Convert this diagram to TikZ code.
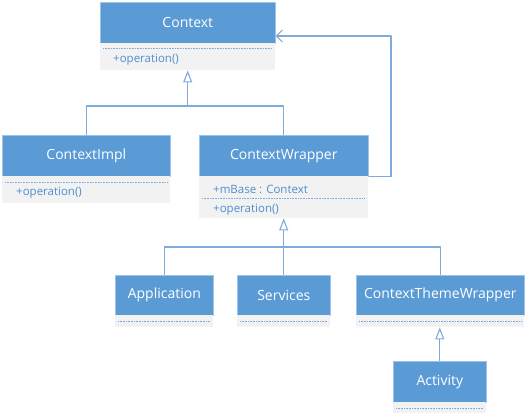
\documentclass[tikz,border=0pt]{standalone}
\usepackage{fontspec}
\setmainfont{Open Sans}
\usetikzlibrary{arrows.meta}
\definecolor{umlblue}{HTML}{5B9BD5}
\definecolor{umledge}{HTML}{9DC3E6}
\definecolor{umlline}{HTML}{7FAADC}
\definecolor{umlgray}{HTML}{F2F2F2}
\definecolor{umltext}{HTML}{4F8FD0}
\begin{document}
\begin{tikzpicture}[x=1pt, y=-1pt, line join=round,
	head/.style={fill=umlblue, draw=umledge, line width=0.6pt, inner sep=0pt, anchor=north west,
		text=white, font=\fontsize{14}{16}\selectfont},
	body/.style={fill=umlgray, inner sep=0pt, anchor=north west},
	member/.style={text=umltext, inner sep=0pt, anchor=west, font=\fontsize{11.5}{13}\selectfont},
	sep/.style={draw=umlline, line width=1pt, dash pattern=on 0.8pt off 0.8pt},
	link/.style={draw=umlline, line width=1.1pt},
	tri/.style={link, -{Triangle[open, length=12pt, width=9pt, line width=1.1pt]}},
	assoc/.style={link, -{Straight Barb[length=6pt, width=12pt, line width=1.1pt]}}]
	\useasboundingbox (0,0) rectangle (526,415);
	% Context
	\node[head, minimum width=175pt, minimum height=41pt] (ctxH) at (100,2) {Context};
	\node[body, minimum width=175pt, minimum height=27pt] (ctxB) at (100,43) {};
	\draw[sep] (103,48) -- (272,48);
	\node[member] (ctxOp) at (113,60) {+operation()};
	% ContextImpl
	\node[head, minimum width=168pt, minimum height=41pt] (implH) at (2,135) {ContextImpl};
	\node[body, minimum width=168pt, minimum height=27pt] (implB) at (2,176) {};
	\draw[sep] (5,182) -- (167,182);
	\node[member] (implOp) at (16,193) {+operation()};
	% ContextWrapper
	\node[head, minimum width=169pt, minimum height=41pt] (wrapH) at (199,135) {ContextWrapper};
	\node[body, minimum width=169pt, minimum height=42pt] (wrapB) at (199,176) {};
	\node[member] (wrapBase) at (213,189) {+mBase : Context};
	\draw[sep] (202,198) -- (365,198);
	\node[member] (wrapOp) at (213,210) {+operation()};
	% subclasses
	\node[head, minimum width=98pt, minimum height=40pt] (appH) at (115,275) {Application};
	\node[body, minimum width=98pt, minimum height=12pt] (appB) at (115,315) {};
	\draw[sep] (118,321) -- (210,321);
	\node[head, minimum width=93pt, minimum height=40pt] (svcH) at (237,275) {Services};
	\node[body, minimum width=93pt, minimum height=12pt] (svcB) at (237,315) {};
	\draw[sep] (240,321) -- (327,321);
	\node[head, minimum width=168pt, minimum height=40pt] (ctwH) at (356,275) {ContextThemeWrapper};
	\node[body, minimum width=168pt, minimum height=12pt] (ctwB) at (356,315) {};
	\draw[sep] (359,321) -- (521,321);
	\node[head, minimum width=93pt, minimum height=41pt] (actH) at (393,361) {Activity};
	\node[body, minimum width=93pt, minimum height=11pt] (actB) at (393,402) {};
	\draw[sep] (396,408) -- (483,408);
	% inheritance
	\coordinate (j1) at (ctxB.south |- 0,106);
	\draw[tri] (j1) -- (ctxB.south);
	\draw[link] (implH.north) -- (implH.north |- j1) -| (wrapH.north);
	\coordinate (j2) at (wrapB.south |- 0,247);
	\draw[tri] (svcH.north -| wrapB.south) -- (wrapB.south);
	\draw[link] (appH.north) -- (appH.north |- j2) -| (ctwH.north);
	\draw[tri] (actH.north) -- (ctwB.south -| actH.north);
	% association
	\coordinate (k) at (391,36);
	\draw[assoc] (wrapH.south east) -| (k) -- (ctxH.east |- k);
\end{tikzpicture}
\end{document}
